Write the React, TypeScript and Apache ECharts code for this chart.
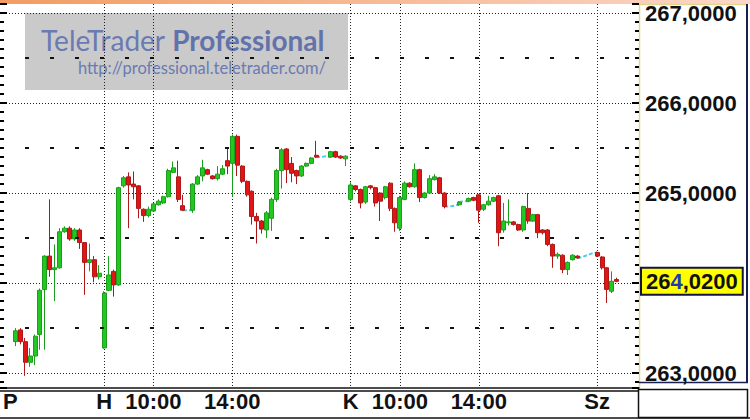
import React, { useEffect, useRef } from 'react';
import * as echarts from 'echarts';

// Sessions: day letter, start minute, number of 15-minute slots
const sessions = [
  { day: 'P', start: 15 * 60, count: 20 },
  { day: 'H', start: 7 * 60 + 30, count: 50 },
  { day: 'K', start: 7 * 60 + 30, count: 50 },
  { day: 'Sz', start: 7 * 60 + 30, count: 9 },
];

type Bar = [number, number, number, number] | null; // open, close, low, high

const fridayBars: Bar[] = [
  null, null,
  [263.35, 263.47, 263.30, 263.50],
  [263.48, 263.35, 263.32, 263.50],
  [263.35, 263.12, 262.97, 263.39],
  [263.12, 263.19, 263.07, 263.28],
  [263.19, 263.41, 263.09, 263.43],
  [263.43, 263.92, 263.26, 263.94],
  [263.93, 264.30, 263.26, 264.31],
  [264.30, 264.15, 264.07, 264.93],
  [264.15, 264.17, 263.80, 264.43],
  [264.17, 264.57, 264.16, 264.61],
  [264.57, 264.61, 264.56, 264.63],
  [264.61, 264.49, 264.47, 264.63],
  [264.49, 264.59, 264.47, 264.61],
  [264.59, 264.45, 264.38, 264.61],
  [264.45, 264.23, 263.87, 264.45],
  [264.23, 264.26, 264.13, 264.44],
  [264.26, 264.07, 264.01, 264.30],
  [264.07, 264.11, 264.04, 264.20],
];

const mondayBars: Bar[] = [
  [263.28, 263.89, 263.27, 263.91],
  [263.92, 264.09, 263.91, 264.30],
  [264.13, 263.98, 263.85, 264.15],
  [263.98, 265.06, 263.97, 265.07],
  [265.08, 265.17, 265.06, 265.19],
  [265.18, 265.09, 264.61, 265.23],
  [265.10, 265.07, 264.93, 265.24],
  [265.08, 264.83, 264.72, 265.09],
  [264.82, 264.75, 264.68, 264.83],
  [264.75, 264.82, 264.73, 264.85],
  [264.80, 264.88, 264.79, 264.89],
  [264.87, 264.91, 264.86, 264.93],
  [264.89, 264.96, 264.88, 264.97],
  [264.96, 265.25, 264.95, 265.27],
  [265.23, 265.28, 265.22, 265.35],
  [265.18, 264.93, 264.90, 265.36],
  [264.86, 264.81, 264.80, 264.98],
  null,
  [264.81, 265.10, 264.78, 265.11],
  [265.10, 265.18, 265.09, 265.20],
  [265.19, 265.28, 265.13, 265.37],
  [265.26, 265.21, 265.20, 265.27],
  [265.19, 265.16, 265.15, 265.20],
  [265.16, 265.21, 265.14, 265.30],
  [265.21, 265.27, 265.20, 265.31],
  [265.36, 265.30, 265.21, 265.50],
  [265.33, 265.63, 264.96, 265.65],
  [265.63, 265.31, 265.19, 265.65],
  [265.30, 265.13, 265.11, 265.31],
  [265.13, 264.98, 264.96, 265.14],
  [265.02, 264.74, 264.65, 265.03],
  [264.74, 264.69, 264.44, 264.78],
  [264.69, 264.60, 264.55, 264.70],
  [264.59, 264.78, 264.50, 264.80],
  [264.72, 264.93, 264.58, 264.95],
  [264.93, 265.25, 264.90, 265.27],
  [265.25, 265.48, 265.05, 265.50],
  [265.49, 265.26, 265.11, 265.50],
  [265.33, 265.22, 265.12, 265.40],
  [265.25, 265.19, 265.10, 265.26],
  [265.19, 265.30, 265.18, 265.31],
  [265.30, 265.33, 265.29, 265.34],
  [265.33, 265.39, 265.32, 265.40],
  [265.42, 265.40, 265.39, 265.58],
  null,
  null,
  [265.40, 265.46, 265.39, 265.47],
  [265.46, 265.40, 265.39, 265.47],
  [265.41, 265.39, 265.38, 265.42],
  [265.38, 265.41, 265.30, 265.42],
];

const tuesdayBars: Bar[] = [
  [264.93, 265.09, 264.91, 265.12],
  [265.08, 265.04, 265.02, 265.09],
  [265.04, 264.89, 264.83, 265.05],
  [264.90, 265.07, 264.88, 265.08],
  [265.08, 265.06, 265.04, 265.09],
  [265.06, 264.89, 264.85, 265.07],
  [265.00, 264.91, 264.69, 265.01],
  [264.95, 265.07, 264.93, 265.08],
  [265.11, 264.83, 264.80, 265.12],
  [264.83, 264.67, 264.57, 264.84],
  [264.61, 264.95, 264.58, 264.97],
  [264.93, 265.11, 264.92, 265.13],
  [265.11, 265.07, 265.06, 265.12],
  [265.07, 265.26, 265.06, 265.33],
  [265.26, 264.95, 264.90, 265.27],
  [264.95, 265.00, 264.94, 265.01],
  [265.00, 265.16, 264.99, 265.20],
  [265.15, 265.18, 265.14, 265.21],
  [265.17, 265.00, 264.99, 265.18],
  [265.00, 264.85, 264.83, 265.01],
  null,
  null,
  [264.87, 264.90, 264.86, 264.91],
  null,
  [264.91, 264.94, 264.90, 264.95],
  [264.95, 264.92, 264.91, 264.96],
  [264.98, 264.81, 264.67, 264.99],
  [264.82, 264.87, 264.80, 264.88],
  [264.87, 264.91, 264.86, 264.97],
  [264.91, 264.95, 264.90, 264.96],
  [264.97, 264.56, 264.41, 264.98],
  [264.59, 264.69, 264.56, 264.89],
  [264.67, 264.68, 264.64, 264.93],
  [264.68, 264.65, 264.64, 264.69],
  [264.65, 264.59, 264.58, 264.66],
  [264.59, 264.85, 264.57, 264.86],
  [264.83, 264.69, 264.66, 265.00],
  [264.69, 264.76, 264.68, 264.77],
  [264.76, 264.56, 264.50, 264.77],
  [264.59, 264.56, 264.54, 264.60],
  [264.59, 264.43, 264.41, 264.60],
  [264.43, 264.30, 264.17, 264.44],
  [264.30, 264.32, 264.27, 264.34],
  [264.31, 264.15, 264.11, 264.32],
  [264.15, 264.23, 264.09, 264.24],
  [264.26, 264.31, 264.25, 264.32],
  [264.30, 264.28, 264.27, 264.31],
  null,
  null,
  null,
];

const wednesdayBars: Bar[] = [
  [264.34, 264.30, 264.29, 264.35],
  [264.29, 264.17, 264.15, 264.30],
  [264.17, 263.93, 263.78, 264.18],
  [263.91, 264.02, 263.89, 264.13],
  [264.04, 264.02, 264.01, 264.06],
  null, null, null, null,
];

// No-trade stretches (drawn as cyan flat line): start slot index and prices
const noTradeRuns: { start: number; values: number[] }[] = [
  { start: 36, values: [264.81, 264.81, 264.81] },
  { start: 63, values: [265.40, 265.40, 265.41, 265.40] },
  { start: 89, values: [264.85, 264.85, 264.86, 264.87] },
  { start: 92, values: [264.90, 264.91, 264.91] },
  { start: 116, values: [264.28, 264.29, 264.31, 264.33, 264.34] },
];

const lastPrice = 264.02;
const halfLevels = [263.5, 264.5, 265.5, 266.5];
const labelIndex = [1, 20, 30, 46, 70, 80, 96, 120];
const labelText = ['P', 'H', '10:00', '14:00', 'K', '10:00', '14:00', 'Sz'];
const gridIndex = [20, 30, 46, 70, 80, 96, 120];
const yMin = 262.835;
const yMax = 267.1;

const pad = (n: number) => (n < 10 ? '0' + n : '' + n);
const categories: string[] = sessions.flatMap((s) =>
  Array.from({ length: s.count }, (_, i) => {
    const m = s.start + 15 * i;
    return `${s.day} ${pad(Math.floor(m / 60))}:${pad(m % 60)}`;
  })
);

const allBars: Bar[] = [...fridayBars, ...mondayBars, ...tuesdayBars, ...wednesdayBars];

const FONT = 'Liberation Sans';
const fmtPrice = (v: number) => v.toFixed(4).replace('.', ',');

export default function App() {
  const ref = useRef<HTMLDivElement>(null);

  useEffect(() => {
    document.body.style.margin = '0';
    if (!ref.current) return;
    const chart = echarts.init(ref.current, null, { renderer: 'svg' });

    const lp = fmtPrice(lastPrice);
    const candleData = allBars.map((b) => (b ? b : ['-', '-', '-', '-']));

    const cyanSeries = noTradeRuns.map((r) => ({
      type: 'line',
      data: r.values.map((v, i) => [r.start + i, v]),
      symbol: 'none',
      silent: true,
      z: 1,
      lineStyle: { color: '#4fcbea', width: 2, type: [4, 2] },
    }));

    const option: any = {
      animation: false,
      backgroundColor: '#ffffff',
      grid: { left: 3, right: 111, top: 4, bottom: 32, outerBoundsMode: 'none' },
      xAxis: {
        type: 'category',
        data: categories,
        boundaryGap: true,
        axisLine: { show: true, lineStyle: { color: '#111', width: 1.5 } },
        axisTick: { show: false },
        axisLabel: {
          interval: (i: number) => labelIndex.includes(i),
          formatter: (_v: string, i: number) => {
            const p = labelIndex.indexOf(i);
            return p >= 0 ? labelText[p] : '';
          },
          margin: 2,
          fontSize: 22,
          fontWeight: 'bold',
          fontFamily: FONT,
          color: '#111',
        },
        splitLine: {
          show: true,
          interval: (i: number) => gridIndex.includes(i),
          alignWithLabel: true,
          lineStyle: { color: '#222', type: [1, 2], width: 1 },
        },
      },
      yAxis: [
        {
          type: 'value',
          position: 'right',
          min: yMin,
          max: yMax,
          axisLine: { show: false },
          axisTick: { show: true, inside: true, length: 7, lineStyle: { color: '#000', width: 2 } },
          minorTick: { show: true, splitNumber: 10, length: 4, lineStyle: { color: '#000', width: 2 } },
          axisLabel: {
            margin: 6,
            fontSize: 22,
            fontWeight: 'bold',
            fontFamily: FONT,
            color: '#111',
            showMinLabel: false,
            showMaxLabel: false,
            formatter: (v: number) => (Math.abs(v - lastPrice) < 0.3 ? '' : fmtPrice(v)),
          },
          splitLine: {
            show: true,
            showMinLine: false,
            showMaxLine: false,
            lineStyle: { color: '#222', type: [1, 2], width: 1 },
          },
        },
        {
          type: 'value',
          position: 'left',
          offset: 3,
          min: yMin,
          max: yMax,
          axisLine: { show: false },
          axisLabel: { show: false },
          splitLine: { show: false },
          axisTick: { show: true, inside: true, length: 7, lineStyle: { color: '#000', width: 2 } },
          minorTick: { show: true, splitNumber: 10, length: 4, lineStyle: { color: '#000', width: 2 } },
        },
      ],
      series: [
        {
          type: 'candlestick',
          data: candleData,
          barWidth: '92%',
          z: 3,
          itemStyle: {
            color: '#22c822',
            color0: '#e01515',
            borderColor: '#1c9e1c',
            borderColor0: '#b01818',
            borderWidth: 1,
          },
          markLine: {
            silent: true,
            symbol: ['none', 'none'],
            label: { show: false },
            data: [
              ...halfLevels.map((v) => ({
                yAxis: v,
                lineStyle: { color: '#111', width: 2, type: [4, 21], dashOffset: 3 },
              })),
              {
                yAxis: lastPrice,
                lineStyle: { color: 'rgba(0,0,0,0)', width: 1, type: 'solid' },
                label: {
                  show: true,
                  position: 'end',
                  distance: 3,
                  formatter: `{a|${lp.slice(0, 2)}}{b|${lp.slice(2, 3)}}{a|${lp.slice(3)}}`,
                  backgroundColor: '#ffff00',
                  borderColor: '#141440',
                  borderWidth: 2,
                  padding: [2, 4, 1, 4],
                  color: '#111',
                  fontSize: 22,
                  fontWeight: 'bold',
                  fontFamily: FONT,
                  rich: {
                    a: { fontSize: 22, fontWeight: 'bold', fontFamily: FONT, color: '#111' },
                    b: { fontSize: 22, fontWeight: 'bold', fontFamily: FONT, color: '#2438b8' },
                  },
                },
              },
            ],
          },
        },
        ...cyanSeries,
      ],
      graphic: [
        {
          type: 'rect',
          silent: true,
          shape: { x: 0, y: 0, width: 750, height: 4 },
          style: {
            fill: new echarts.graphic.LinearGradient(0, 0, 1, 0, [
              { offset: 0, color: '#f29c62' },
              { offset: 1, color: '#fbd7c9' },
            ]),
          },
        },
        { type: 'line', silent: true, shape: { x1: 639.5, y1: 4, x2: 639.5, y2: 388 }, style: { stroke: '#e2d68c', lineWidth: 1.5 } },
        { type: 'line', silent: true, shape: { x1: 639, y1: 4.5, x2: 748, y2: 4.5 }, style: { stroke: '#e2d68c', lineWidth: 1.5 } },
        { type: 'line', silent: true, shape: { x1: 747, y1: 4, x2: 747, y2: 383 }, style: { stroke: '#1a1f4f', lineWidth: 2 } },
        { type: 'line', silent: true, shape: { x1: 639, y1: 382.5, x2: 748, y2: 382.5 }, style: { stroke: '#1a1f4f', lineWidth: 1.5 } },
        { type: 'line', silent: true, shape: { x1: 0, y1: 391, x2: 638, y2: 391 }, style: { stroke: '#111', lineWidth: 1.5 } },
        { type: 'line', silent: true, shape: { x1: 0, y1: 418, x2: 750, y2: 418 }, style: { stroke: '#111', lineWidth: 1.5 } },
        { type: 'rect', silent: true, shape: { x: 638.5, y: 389.5, width: 109, height: 28 }, style: { fill: 'none', stroke: '#111', lineWidth: 1.5 } },
        {
          type: 'group',
          silent: true,
          z: 100,
          children: [
            { type: 'rect', shape: { x: 25, y: 13, width: 323, height: 77 }, style: { fill: '#a6a6a6', opacity: 0.6 } },
            {
              type: 'text',
              style: {
                x: 41,
                y: 26,
                verticalAlign: 'top',
                text: '{a|TeleTrader }{b|Professional}',
                fill: '#6a7ab2',
                rich: {
                  a: { fontSize: 28, fontFamily: 'Lato', fill: '#6a7ab2', color: '#6a7ab2' },
                  b: { fontSize: 28, fontFamily: 'Lato', fontWeight: 'bold', fill: '#6272aa', color: '#6272aa' },
                },
              },
            },
            {
              type: 'text',
              style: {
                x: 78,
                y: 59,
                verticalAlign: 'top',
                text: 'http://professional.teletrader.com/',
                fontSize: 16.5,
                fontFamily: 'Lato',
                fill: '#6a7ab2',
              },
            },
          ],
        },
      ],
    };

    chart.setOption(option);
    return () => chart.dispose();
  }, []);

  return <div ref={ref} style={{ width: 750, height: 420 }} />;
}
